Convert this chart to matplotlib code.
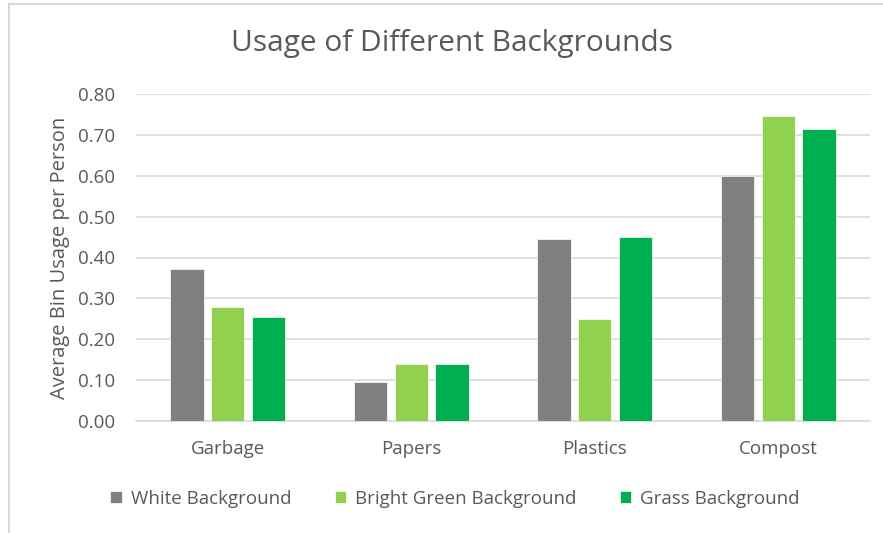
import numpy as np
import matplotlib.pyplot as plt
from matplotlib.lines import Line2D

# Data
categories = ["Garbage", "Papers", "Plastics", "Compost"]
white_bg = [0.372, 0.095, 0.445, 0.60]
bright_green_bg = [0.28, 0.14, 0.25, 0.746]
grass_bg = [0.255, 0.14, 0.45, 0.715]
series_names = ["White Background", "Bright Green Background", "Grass Background"]
yticks = [0.0, 0.1, 0.2, 0.3, 0.4, 0.5, 0.6, 0.7, 0.8]

colors = ["#808080", "#92D050", "#00B050"]
text_color = "#595959"
grid_color = "#D9D9D9"

plt.rcParams['font.family'] = ['Open Sans', 'DejaVu Sans']

fig = plt.figure(figsize=(8.83, 5.33), dpi=100)
ax = fig.add_axes([136/883, 1 - 421/533, (870 - 136)/883, (421 - 94)/533])

x = np.arange(len(categories))
step = 0.222
width = 0.18
for i, (vals, name, c) in enumerate(zip([white_bg, bright_green_bg, grass_bg], series_names, colors)):
    ax.bar(x + (i - 1) * step, vals, width, color=c, label=name, zorder=3,
           edgecolor="white", linewidth=0.5)

ax.set_xlim(-0.5, len(categories) - 0.5)
ax.set_ylim(0, 0.8)
ax.set_yticks(yticks)
ax.set_yticklabels([f"{v:.2f}" for v in yticks])
ax.set_xticks(x)
ax.set_xticklabels(categories)
ax.tick_params(axis='both', length=0, labelsize=13.5, colors=text_color)
ax.tick_params(axis='x', pad=14)
ax.tick_params(axis='y', pad=15)
ax.yaxis.grid(True, color=grid_color, linewidth=1.2, zorder=0)
for s in ["top", "right", "left"]:
    ax.spines[s].set_visible(False)
ax.spines["bottom"].set_color(grid_color)
ax.spines["bottom"].set_linewidth(1.2)

ax.set_ylabel("Average Bin Usage per Person", fontsize=14.5, color=text_color, labelpad=6)

fig.text(452/883, 1 - 44/533, "Usage of Different Backgrounds", ha="center", va="center",
         fontsize=21.5, color=text_color)

handles, labels = ax.get_legend_handles_labels()
fig.legend(handles, labels, loc="center", bbox_to_anchor=(455/883, 1 - 499/533), ncol=3,
           frameon=False, fontsize=13.5, labelcolor=text_color, handlelength=0.6,
           handleheight=0.6, handletextpad=0.5, columnspacing=2.3)

# chart border (partially cropped in the reference)
fig.add_artist(Line2D([9/883, 1], [1 - 4/533, 1 - 4/533], transform=fig.transFigure,
                      color=grid_color, linewidth=1.5))
fig.add_artist(Line2D([9/883, 9/883], [0, 1 - 4/533], transform=fig.transFigure,
                      color=grid_color, linewidth=1.5))

fig.savefig("out.png", dpi=100)
